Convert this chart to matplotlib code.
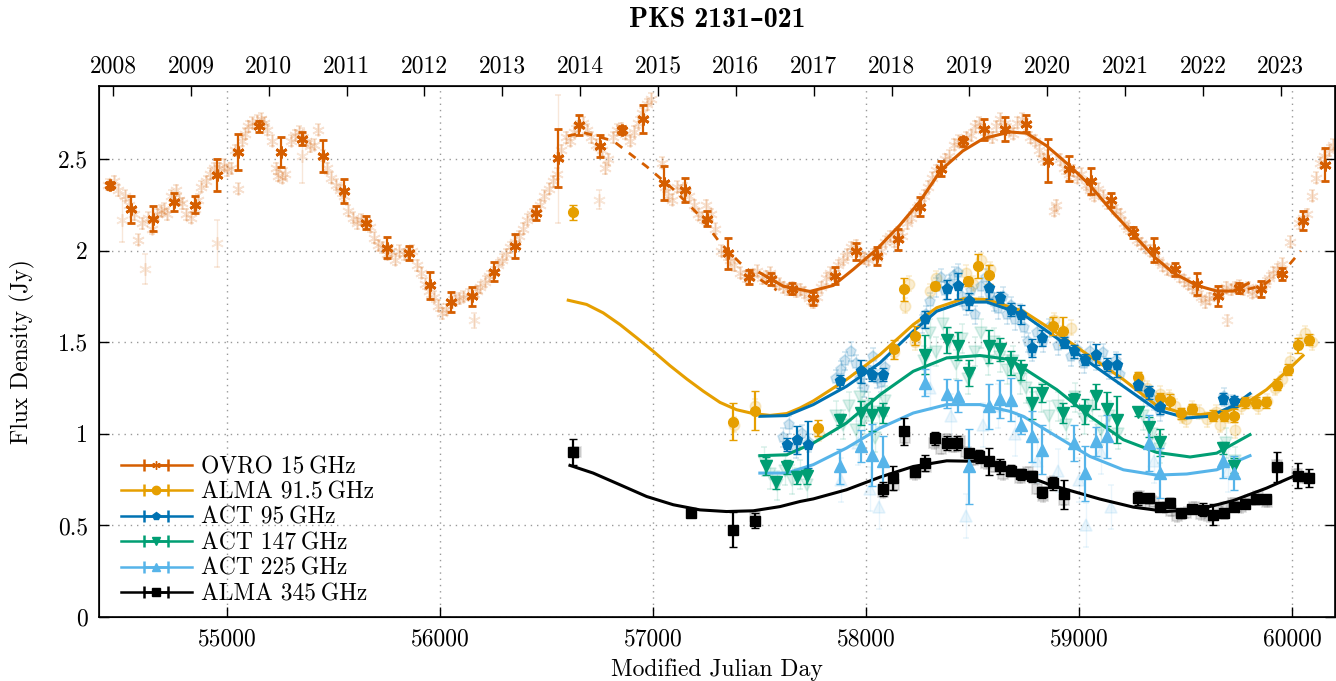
import datetime
import numpy as np
import matplotlib
matplotlib.use("Agg")
import matplotlib.pyplot as plt
from matplotlib.ticker import FuncFormatter

plt.rcParams['font.family'] = ['cmr10', 'DejaVu Serif']
plt.rcParams['mathtext.fontset'] = 'cm'
plt.rcParams['axes.formatter.use_mathtext'] = True
plt.rcParams['font.size'] = 17

# ---- data (MJD, flux Jy, error Jy) ----
ovro_bin = [
    (54451, 2.358, 0.020), (54551, 2.226, 0.073), (54652, 2.176, 0.070), (54752, 2.266, 0.050),
    (54852, 2.252, 0.045), (54952, 2.414, 0.090), (55052, 2.540, 0.100), (55152, 2.679, 0.030),
    (55252, 2.540, 0.080), (55351, 2.613, 0.037), (55452, 2.518, 0.086), (55551, 2.325, 0.066),
    (55653, 2.154, 0.036), (55753, 2.017, 0.058), (55853, 1.990, 0.038), (55953, 1.811, 0.073),
    (56052, 1.720, 0.055), (56152, 1.752, 0.051), (56252, 1.886, 0.053), (56351, 2.026, 0.064),
    (56450, 2.208, 0.038), (56552, 2.507, 0.157), (56652, 2.686, 0.055), (56752, 2.573, 0.062),
    (56853, 2.660, 0.023), (56953, 2.719, 0.077), (57051, 2.369, 0.093), (57151, 2.330, 0.066),
    (57252, 2.176, 0.041), (57352, 1.986, 0.086), (57451, 1.858, 0.038), (57552, 1.847, 0.032),
    (57652, 1.793, 0.029), (57752, 1.741, 0.035), (57852, 1.865, 0.046), (57952, 1.997, 0.046),
    (58051, 1.971, 0.051), (58151, 2.062, 0.058), (58251, 2.241, 0.051), (58351, 2.449, 0.041),
    (58453, 2.599, 0.025), (58553, 2.664, 0.058), (58653, 2.664, 0.066), (58750, 2.693, 0.046),
    (58852, 2.493, 0.120), (58953, 2.449, 0.068), (59053, 2.380, 0.071), (59150, 2.277, 0.040),
    (59250, 2.100, 0.030), (59350, 2.004, 0.064), (59450, 1.898, 0.033), (59551, 1.818, 0.062),
    (59651, 1.752, 0.056), (59751, 1.796, 0.029), (59851, 1.793, 0.044), (59951, 1.873, 0.035),
    (60051, 2.165, 0.051), (60152, 2.471, 0.089),
]
ovro_raw = [
    (54440, 2.36), (54470, 2.38), (54490, 2.33), (54520, 2.30), (54540, 2.25), (54565, 2.20),
    (54584, 2.06), (54600, 2.15), (54630, 2.18), (54650, 2.12), (54670, 2.20), (54690, 2.22),
    (54705, 2.23), (54720, 2.20), (54740, 2.30), (54760, 2.33), (54775, 2.28), (54790, 2.26),
    (54810, 2.20), (54830, 2.18), (54850, 2.23), (54865, 2.28), (54880, 2.35), (54900, 2.38),
    (54920, 2.42), (54940, 2.45), (54965, 2.45), (54985, 2.47), (55000, 2.44), (55020, 2.45),
    (55040, 2.55), (55053, 2.34), (55070, 2.60), (55085, 2.64), (55100, 2.68), (55120, 2.70),
    (55140, 2.71), (55160, 2.72), (55175, 2.70), (55190, 2.66), (55210, 2.60), (55230, 2.45),
    (55241, 2.41), (55260, 2.40), (55275, 2.42), (55300, 2.60), (55320, 2.63), (55340, 2.65),
    (55370, 2.60), (55390, 2.57), (55410, 2.58), (55429, 2.66), (55450, 2.52), (55470, 2.45),
    (55490, 2.40), (55510, 2.36), (55530, 2.33), (55550, 2.30), (55570, 2.22), (55590, 2.18),
    (55610, 2.15), (55630, 2.17), (55650, 2.16), (55670, 2.13), (55690, 2.07), (55710, 2.03),
    (55730, 2.02), (55750, 1.98), (55770, 2.00), (55790, 1.95), (55810, 2.00), (55830, 1.98),
    (55850, 1.99), (55870, 2.00), (55890, 1.92), (55910, 1.88), (55930, 1.82), (55950, 1.78),
    (55970, 1.75), (55990, 1.70), (56010, 1.66), (56030, 1.68), (56050, 1.72), (56070, 1.73),
    (56090, 1.74), (56110, 1.75), (56130, 1.76), (56175, 1.78), (56190, 1.80), (56210, 1.83),
    (56230, 1.86), (56250, 1.88), (56270, 1.92), (56290, 1.95), (56310, 1.98), (56330, 2.02),
    (56350, 2.05), (56370, 2.08), (56390, 2.12), (56410, 2.17), (56430, 2.20), (56450, 2.21),
    (56470, 2.25), (56490, 2.30), (56510, 2.34), (56530, 2.38), (56550, 2.42), (56570, 2.55),
    (56590, 2.62), (56610, 2.60), (56630, 2.65), (56650, 2.68), (56670, 2.70), (56690, 2.66),
    (56710, 2.62), (56730, 2.58), (56760, 2.55), (56775, 2.45), (56790, 2.50), (56810, 2.62),
    (56830, 2.66), (56850, 2.67), (56870, 2.64), (56890, 2.60), (56910, 2.65), (56930, 2.70),
    (56950, 2.75), (56970, 2.80), (56990, 2.83), (57040, 2.48), (57055, 2.35), (57070, 2.30),
    (57090, 2.28), (57110, 2.35), (57130, 2.33), (57150, 2.34), (57170, 2.30), (57190, 2.25),
    (57210, 2.20), (57230, 2.18), (57250, 2.25), (57270, 2.20), (57290, 2.12), (57320, 2.00),
    (57340, 1.98), (57360, 1.95), (57380, 1.92), (57410, 1.88), (57430, 1.86), (57450, 1.85),
    (57470, 1.87), (57490, 1.89), (57510, 1.85), (57530, 1.86), (57550, 1.88), (57570, 1.83),
    (57590, 1.82), (57610, 1.80), (57630, 1.79), (57650, 1.80), (57670, 1.78), (57690, 1.79),
    (57710, 1.77), (57730, 1.74), (57750, 1.72), (57770, 1.75), (57790, 1.80), (57810, 1.85),
    (57830, 1.88), (57850, 1.87), (57870, 1.92), (57890, 1.95), (57910, 1.98), (57930, 2.02),
    (57950, 2.03), (57970, 1.98), (57990, 1.96), (58010, 1.95), (58030, 1.98), (58050, 1.96),
    (58070, 2.00), (58090, 2.05), (58110, 2.08), (58130, 2.05), (58150, 2.10), (58170, 2.08),
    (58190, 2.15), (58210, 2.18), (58230, 2.22), (58250, 2.25), (58270, 2.30), (58290, 2.35),
    (58310, 2.40), (58330, 2.44), (58350, 2.46), (58370, 2.50), (58390, 2.52), (58410, 2.58),
    (58430, 2.60), (58450, 2.59), (58470, 2.62), (58490, 2.63), (58510, 2.68), (58530, 2.70),
    (58550, 2.66), (58570, 2.64), (58590, 2.62), (58610, 2.68), (58630, 2.72), (58650, 2.70),
    (58670, 2.66), (58690, 2.64), (58710, 2.70), (58730, 2.72), (58750, 2.69), (58770, 2.62),
    (58790, 2.60), (58810, 2.55), (58830, 2.50), (58850, 2.52), (58880, 2.22), (58890, 2.25),
    (58910, 2.50), (58930, 2.45), (58950, 2.42), (58970, 2.44), (58990, 2.40), (59010, 2.42),
    (59030, 2.36), (59050, 2.33), (59070, 2.30), (59090, 2.34), (59110, 2.30), (59130, 2.26),
    (59150, 2.28), (59170, 2.22), (59190, 2.20), (59210, 2.15), (59230, 2.12), (59250, 2.10),
    (59270, 2.06), (59290, 2.04), (59310, 2.02), (59330, 2.00), (59350, 1.98), (59370, 1.95),
    (59390, 1.92), (59410, 1.90), (59430, 1.89), (59450, 1.90), (59470, 1.86), (59490, 1.84),
    (59510, 1.82), (59530, 1.80), (59550, 1.78), (59570, 1.75), (59590, 1.72), (59610, 1.74),
    (59630, 1.76), (59650, 1.78), (59670, 1.78), (59690, 1.80), (59710, 1.79), (59730, 1.80),
    (59750, 1.81), (59770, 1.79), (59790, 1.80), (59810, 1.77), (59830, 1.78), (59850, 1.80),
    (59870, 1.82), (59890, 1.85), (59910, 1.88), (59930, 1.90), (59950, 1.93), (59990, 2.05),
    (60030, 2.15), (60050, 2.18), (60070, 2.20), (60090, 2.30), (60110, 2.40), (60130, 2.48),
    (60150, 2.52), (60170, 2.55), (60190, 2.58),
]
ovro_outliers = [
    (54506, 2.17, 0.12), (54616, 1.90, 0.08), (54952, 2.04, 0.13), (55351, 2.52, 0.15),
    (56160, 1.62, 0.04), (56552, 2.50, 0.35), (56745, 2.28, 0.05), (59693, 1.62, 0.03),
]

alma91_bin = [
    (56626, 2.210, 0.040), (57376, 1.067, 0.103), (57478, 1.127, 0.108), (57775, 1.032, 0.046),
    (58130, 1.461, 0.050), (58177, 1.789, 0.061), (58227, 1.537, 0.050), (58323, 1.807, 0.020),
    (58479, 1.834, 0.025), (58527, 1.916, 0.067), (58578, 1.870, 0.050), (58876, 1.588, 0.050),
    (58925, 1.561, 0.076), (59277, 1.311, 0.025), (59379, 1.196, 0.030), (59426, 1.178, 0.040),
    (59476, 1.114, 0.030), (59527, 1.136, 0.030), (59628, 1.100, 0.030), (59678, 1.100, 0.030),
    (59726, 1.100, 0.036), (59778, 1.172, 0.030), (59828, 1.169, 0.030), (59876, 1.172, 0.030),
    (59929, 1.269, 0.030), (59978, 1.351, 0.030), (60027, 1.483, 0.041), (60077, 1.515, 0.030),
]
alma91_raw = [
    (57380, 1.05), (57480, 1.15), (57780, 1.00), (58130, 1.45), (58180, 1.70), (58200, 1.82),
    (58230, 1.50), (58300, 1.78), (58330, 1.85), (58470, 1.88), (58500, 1.82), (58540, 1.95),
    (58580, 1.90), (58880, 1.62), (58920, 1.55), (58960, 1.58), (59280, 1.30), (59320, 1.25),
    (59380, 1.22), (59420, 1.20), (59450, 1.15), (59480, 1.10), (59500, 1.08), (59530, 1.14),
    (59560, 1.12), (59600, 1.08), (59640, 1.12), (59660, 1.05), (59700, 1.10), (59730, 1.02),
    (59760, 1.15), (59800, 1.18), (59840, 1.15), (59880, 1.18), (59920, 1.25), (59950, 1.30),
    (59990, 1.40), (60030, 1.50), (60060, 1.55), (60090, 1.50),
]

act95_bin = [
    (57627, 0.941, 0.036), (57677, 0.968, 0.077), (57729, 0.941, 0.128), (57877, 1.287, 0.036),
    (57975, 1.342, 0.064), (58027, 1.324, 0.036), (58078, 1.324, 0.036), (58276, 1.625, 0.046),
    (58377, 1.789, 0.050), (58429, 1.807, 0.073), (58481, 1.725, 0.046), (58578, 1.798, 0.064),
    (58628, 1.743, 0.030), (58678, 1.679, 0.036), (58725, 1.652, 0.050), (58777, 1.470, 0.050),
    (58827, 1.524, 0.046), (58928, 1.497, 0.030), (58977, 1.451, 0.034), (59027, 1.406, 0.030),
    (59078, 1.433, 0.056), (59128, 1.379, 0.036), (59178, 1.375, 0.064), (59277, 1.265, 0.025),
    (59329, 1.227, 0.036), (59379, 1.147, 0.036), (59676, 1.193, 0.030), (59726, 1.178, 0.030),
]
act95_raw = [
    (57610, 0.98), (57640, 1.05), (57670, 0.92), (57700, 1.00), (57730, 0.95), (57860, 1.30),
    (57880, 1.35), (57900, 1.40), (57930, 1.45), (57950, 1.38), (57970, 1.30), (57990, 1.25),
    (58010, 1.35), (58030, 1.42), (58050, 1.30), (58070, 1.28), (58090, 1.36), (58260, 1.60),
    (58280, 1.65), (58300, 1.72), (58330, 1.80), (58350, 1.85), (58370, 1.78), (58390, 1.82),
    (58410, 1.86), (58430, 1.88), (58450, 1.75), (58470, 1.70), (58490, 1.78), (58510, 1.65),
    (58540, 1.80), (58560, 1.85), (58580, 1.76), (58600, 1.72), (58620, 1.68), (58640, 1.75),
    (58660, 1.65), (58680, 1.70), (58700, 1.62), (58720, 1.66), (58740, 1.58), (58760, 1.50),
    (58780, 1.45), (58800, 1.55), (58830, 1.50), (58860, 1.58), (58900, 1.48), (58930, 1.52),
    (58960, 1.42), (58990, 1.46), (59020, 1.38), (59050, 1.45), (59080, 1.40), (59110, 1.44),
    (59140, 1.35), (59170, 1.40), (59190, 1.32), (59290, 1.25), (59320, 1.20), (59350, 1.18),
    (59380, 1.12), (59680, 1.20), (59720, 1.16),
]

act147_bin = [
    (57528, 0.826, 0.048), (57577, 0.735, 0.037), (57627, 0.819, 0.036), (57674, 0.764, 0.036),
    (57721, 0.768, 0.040), (57877, 1.078, 0.030), (57975, 1.114, 0.068), (58027, 1.105, 0.090),
    (58078, 1.114, 0.055), (58276, 1.433, 0.105), (58377, 1.515, 0.071), (58429, 1.479, 0.075),
    (58481, 1.333, 0.073), (58578, 1.479, 0.091), (58628, 1.461, 0.064), (58678, 1.388, 0.067),
    (58725, 1.351, 0.055), (58777, 1.169, 0.087), (58827, 1.224, 0.050), (58925, 1.114, 0.055),
    (58977, 1.187, 0.036), (59027, 1.123, 0.068), (59078, 1.205, 0.067), (59128, 1.136, 0.091),
    (59178, 1.078, 0.128), (59277, 1.118, 0.020), (59329, 1.038, 0.055), (59379, 0.954, 0.073),
    (59676, 0.923, 0.034), (59726, 0.826, 0.041),
]
act147_raw = [
    (57520, 0.85), (57550, 0.78), (57580, 0.72), (57620, 0.80), (57650, 0.75), (57690, 0.78),
    (57720, 0.72), (57860, 1.10), (57890, 1.05), (57920, 1.15), (57950, 1.02), (57970, 1.20),
    (57990, 1.08), (58010, 1.15), (58040, 0.98), (58060, 1.12), (58090, 1.18), (58270, 1.40),
    (58300, 1.55), (58330, 1.45), (58360, 1.60), (58390, 1.50), (58420, 1.38), (58450, 1.52),
    (58480, 1.30), (58510, 1.45), (58540, 1.55), (58570, 1.40), (58600, 1.50), (58630, 1.42),
    (58660, 1.35), (58690, 1.40), (58720, 1.30), (58750, 1.25), (58780, 1.15), (58820, 1.20),
    (58860, 1.10), (58900, 1.15), (58940, 1.05), (58980, 1.20), (59020, 1.08), (59060, 1.15),
    (59100, 1.02), (59140, 1.10), (59180, 1.00), (59300, 1.10), (59340, 1.00), (59380, 0.92),
    (59690, 0.95), (59730, 0.85),
]

act225_bin = [
    (57877, 0.822, 0.094), (57975, 0.932, 0.087), (58027, 0.886, 0.169), (58078, 0.850, 0.137),
    (58276, 1.279, 0.073), (58377, 1.220, 0.080), (58429, 1.205, 0.087), (58481, 0.822, 0.203),
    (58578, 1.150, 0.123), (58628, 1.190, 0.105), (58678, 1.187, 0.118), (58725, 1.050, 0.050),
    (58777, 0.986, 0.137), (58827, 0.914, 0.132), (58977, 0.950, 0.100), (59027, 0.786, 0.150),
    (59078, 0.959, 0.080), (59128, 0.986, 0.118), (59329, 0.950, 0.155), (59379, 0.786, 0.137),
    (59676, 0.850, 0.091), (59726, 0.786, 0.091),
]
act225_raw = [
    (57880, 0.75), (57960, 0.95), (58020, 0.70), (58060, 0.60), (58300, 1.25), (58400, 1.10),
    (58470, 0.55), (58550, 1.05), (58620, 1.15), (58700, 1.00), (58800, 0.85), (58900, 0.80),
    (59000, 0.75), (59030, 0.50), (59100, 0.90), (59150, 0.60), (59350, 0.85), (59700, 0.80),
]

alma345_bin = [
    (56626, 0.901, 0.073), (57176, 0.567, 0.012), (57376, 0.476, 0.095), (57478, 0.527, 0.041),
    (58077, 0.699, 0.036), (58128, 0.759, 0.064), (58177, 1.014, 0.073), (58229, 0.790, 0.015),
    (58276, 0.841, 0.046), (58323, 0.977, 0.036), (58378, 0.950, 0.036), (58428, 0.950, 0.036),
    (58481, 0.895, 0.015), (58530, 0.877, 0.036), (58578, 0.850, 0.073), (58628, 0.822, 0.040),
    (58678, 0.800, 0.030), (58725, 0.780, 0.030), (58777, 0.770, 0.030), (58827, 0.680, 0.030),
    (58876, 0.730, 0.036), (58928, 0.670, 0.080), (59277, 0.649, 0.036), (59329, 0.649, 0.025),
    (59379, 0.603, 0.015), (59426, 0.625, 0.025), (59476, 0.567, 0.025), (59527, 0.589, 0.015),
    (59579, 0.585, 0.036), (59628, 0.558, 0.057), (59678, 0.567, 0.025), (59726, 0.603, 0.025),
    (59778, 0.618, 0.025), (59828, 0.644, 0.025), (59876, 0.644, 0.025), (59929, 0.819, 0.082),
    (60027, 0.771, 0.068), (60077, 0.759, 0.050),
]
alma345_raw = [
    (56640, 0.90), (57480, 0.55), (58080, 0.68), (58130, 0.72), (58180, 0.98), (58230, 0.78),
    (58280, 0.82), (58320, 0.95), (58350, 0.92), (58380, 0.97), (58410, 0.93), (58440, 0.96),
    (58470, 0.90), (58500, 0.86), (58530, 0.88), (58560, 0.84), (58600, 0.82), (58640, 0.78),
    (58680, 0.80), (58720, 0.76), (58760, 0.79), (58800, 0.70), (58830, 0.66), (58870, 0.74),
    (58930, 0.64), (59280, 0.66), (59310, 0.62), (59350, 0.63), (59400, 0.60), (59430, 0.58),
    (59460, 0.55), (59500, 0.57), (59540, 0.60), (59570, 0.56), (59610, 0.55), (59650, 0.58),
    (59690, 0.60), (59720, 0.62), (59760, 0.60), (59800, 0.64), (59840, 0.66), (59880, 0.63),
    (59930, 0.83), (60020, 0.78), (60060, 0.76),
]

# sinusoidal model curves at knots
ovro_fit_mjd = [57501, 57611, 57736, 57846, 57939, 58049, 58158, 58252, 58352, 58453, 58550,
                58675, 58753, 58847, 58956, 59050, 59159, 59254, 59347, 59441, 59551, 59645,
                59723, 59793]
ovro_fit_flux = [1.880, 1.807, 1.778, 1.811, 1.898, 2.008, 2.140, 2.270, 2.442, 2.545, 2.613,
                 2.649, 2.642, 2.573, 2.463, 2.358, 2.208, 2.090, 1.971, 1.880, 1.811, 1.780,
                 1.780, 1.822]
ovro_dash1_mjd = [56600, 56673, 56813, 56970, 57095, 57220, 57314, 57407, 57501, 57580]
ovro_dash1_flux = [2.627, 2.646, 2.600, 2.460, 2.336, 2.190, 2.044, 1.935, 1.844, 1.785]
ovro_dash2_mjd = [59790, 59860, 59920, 59975, 60040]
ovro_dash2_flux = [1.790, 1.810, 1.860, 1.910, 2.000]

alma91_fit_mjd = [56602, 56688, 56766, 56845, 56923, 57001, 57079, 57158, 57236, 57314, 57392,
                  57470, 57549, 57627, 57690, 57752, 57908, 58065, 58221, 58331, 58456, 58566,
                  58737, 58894, 59050, 59207, 59363, 59472, 59566, 59691, 59785, 59879, 59973,
                  60050]
alma91_fit_flux = [1.730, 1.707, 1.661, 1.597, 1.525, 1.451, 1.373, 1.300, 1.233, 1.172, 1.132,
                   1.111, 1.101, 1.111, 1.142, 1.180, 1.297, 1.433, 1.597, 1.689, 1.738, 1.734,
                   1.670, 1.552, 1.424, 1.297, 1.155, 1.118, 1.105, 1.123, 1.169, 1.242, 1.342,
                   1.428]
act95_fit_mjd = [57501, 57627, 57752, 57908, 58065, 58221, 58331, 58456, 58566, 58737, 58894,
                 59050, 59207, 59363, 59504, 59613, 59723, 59801]
act95_fit_flux = [1.096, 1.100, 1.160, 1.260, 1.388, 1.561, 1.670, 1.720, 1.720, 1.652, 1.524,
                  1.388, 1.260, 1.132, 1.087, 1.096, 1.154, 1.220]
act147_fit_mjd = [57501, 57627, 57752, 57908, 58065, 58221, 58378, 58534, 58675, 58737, 58894,
                  59050, 59207, 59363, 59520, 59645, 59801]
act147_fit_flux = [0.881, 0.886, 0.950, 1.060, 1.214, 1.342, 1.415, 1.428, 1.406, 1.360, 1.242,
                   1.096, 0.968, 0.899, 0.874, 0.895, 0.996]
act225_fit_mjd = [57501, 57627, 57752, 57908, 58065, 58221, 58378, 58534, 58675, 58737, 58894,
                  59050, 59207, 59363, 59504, 59645, 59801]
act225_fit_flux = [0.786, 0.786, 0.832, 0.923, 1.032, 1.114, 1.160, 1.160, 1.123, 1.096, 0.986,
                   0.877, 0.804, 0.775, 0.781, 0.804, 0.881]
alma345_fit_mjd = [56610, 56719, 56845, 56970, 57095, 57220, 57345, 57470, 57596, 57690, 57752,
                   57908, 58065, 58221, 58378, 58534, 58675, 58863, 59097, 59254, 59410, 59566,
                   59723, 59879, 60004]
alma345_fit_flux = [0.828, 0.786, 0.722, 0.658, 0.613, 0.585, 0.576, 0.580, 0.603, 0.631, 0.645,
                    0.695, 0.764, 0.822, 0.853, 0.850, 0.804, 0.722, 0.644, 0.600, 0.576, 0.589,
                    0.636, 0.704, 0.768]

years = list(range(2008, 2024))

# ---- styles ----
c_ovro, c_a91, c_a95, c_a147, c_a225, c_a345 = '#D55E00', '#E69F00', '#0072B2', '#009E73', '#56B4E9', '#000000'
m_ast = (6, 2, 0)

fig = plt.figure(figsize=(13.36, 6.81), dpi=100)
ax = fig.add_axes([99 / 1336, 64 / 681, 1236 / 1336, 531 / 681])


def raw(points, color, marker, err=0.03, alpha=0.13, ms=7):
    x = [p[0] for p in points]
    y = [p[1] for p in points]
    e = [p[2] for p in points] if len(points[0]) > 2 else err
    ax.errorbar(x, y, yerr=e, fmt='', marker=marker, color=color, ms=ms, mew=1.2, alpha=alpha,
                elinewidth=1.0, capsize=2, ls='none', zorder=2)


def binned(points, color, marker, ms=7):
    x = [p[0] for p in points]
    y = [p[1] for p in points]
    e = [p[2] for p in points]
    ax.errorbar(x, y, yerr=e, fmt='', marker=marker, color=color, ms=ms,
                mew=2.0 if marker == m_ast else 1.0,
                elinewidth=1.6, capsize=3, capthick=1.6, ls='none', zorder=5)


raw(ovro_raw, c_ovro, m_ast, err=0.03, alpha=0.18, ms=9)
raw(ovro_outliers, c_ovro, m_ast, alpha=0.15, ms=9)
raw(alma91_raw, c_a91, 'o', err=0.04, alpha=0.18, ms=7.5)
raw(act95_raw, c_a95, 'p', err=0.05, alpha=0.18, ms=8)
raw(act147_raw, c_a147, 'v', err=0.08, alpha=0.14, ms=8)
raw(act225_raw, c_a225, '^', err=0.12, alpha=0.12, ms=8)
raw(alma345_raw, '#555555', 's', err=0.03, alpha=0.18, ms=7)

ax.plot(ovro_fit_mjd, ovro_fit_flux, color=c_ovro, lw=2.2, zorder=4)
ax.plot(ovro_dash1_mjd, ovro_dash1_flux, color=c_ovro, lw=2, ls=(0, (3, 3)), zorder=4)
ax.plot(ovro_dash2_mjd, ovro_dash2_flux, color=c_ovro, lw=2, ls=(0, (3, 3)), zorder=4)
ax.plot(alma91_fit_mjd, alma91_fit_flux, color=c_a91, lw=2.2, zorder=4)
ax.plot(act95_fit_mjd, act95_fit_flux, color=c_a95, lw=2.2, zorder=4)
ax.plot(act147_fit_mjd, act147_fit_flux, color=c_a147, lw=2.2, zorder=4)
ax.plot(act225_fit_mjd, act225_fit_flux, color=c_a225, lw=2.2, zorder=4)
ax.plot(alma345_fit_mjd, alma345_fit_flux, color=c_a345, lw=2.2, zorder=4)

binned(ovro_bin, c_ovro, m_ast, ms=8.5)
binned(alma91_bin, c_a91, 'o', ms=7)
binned(act95_bin, c_a95, 'p', ms=8)
binned(act147_bin, c_a147, 'v', ms=8)
binned(act225_bin, c_a225, '^', ms=8)
binned(alma345_bin, c_a345, 's', ms=7)

# legend proxies
labels = ['OVRO 15\u2009GHz', 'ALMA 91.5\u2009GHz', 'ACT 95\u2009GHz', 'ACT 147\u2009GHz',
          'ACT 225\u2009GHz', 'ALMA 345\u2009GHz']
styles = [(c_ovro, m_ast), (c_a91, 'o'), (c_a95, 'p'), (c_a147, 'v'), (c_a225, '^'), (c_a345, 's')]
handles = []
for (c, m), lab in zip(styles, labels):
    h = ax.errorbar([np.nan], [np.nan], xerr=[1], fmt='-', marker=m, color=c, ms=6, lw=1.8,
                    elinewidth=1.8, capsize=4, capthick=1.8, label=lab)
    handles.append(h)
ax.legend(handles=handles, loc='lower left', frameon=False, handlelength=3.0,
          handletextpad=0.4, labelspacing=0.14, borderaxespad=0.1, bbox_to_anchor=(0.008, 0.0))

ax.set_xlim(54400, 60200)
ax.set_ylim(0, 2.9)
ax.set_xticks([55000, 56000, 57000, 58000, 59000, 60000])
ax.set_yticks([0, 0.5, 1, 1.5, 2, 2.5])
ax.yaxis.set_major_formatter(FuncFormatter(lambda v, p: '%g' % v))
ax.xaxis.set_major_formatter(FuncFormatter(lambda v, p: '%d' % v))
ax.tick_params(direction='in', length=7, width=1, right=True, top=False, pad=8)
ax.grid(True, color='#999999', ls=(0, (1, 3.5)), lw=1.0)
for s in ax.spines.values():
    s.set_linewidth(1.2)
ax.set_xlabel('Modified Julian Day', labelpad=6)
ax.set_ylabel('Flux Density (Jy)')
ax.yaxis.set_label_coords(-0.052, 0.5)

top = ax.twiny()
top.set_xlim(ax.get_xlim())
mjd_epoch = datetime.date(1858, 11, 17)
top.set_xticks([(datetime.date(y, 1, 1) - mjd_epoch).days for y in years])
top.set_xticklabels([str(y) for y in years])
top.tick_params(direction='in', length=7, width=1, pad=6)

fig.text(717 / 1336, 1 - 20 / 681, 'PKS 2131\u2013021', ha='center', va='center',
         fontsize=20, fontweight='bold', family=['cmb10', 'DejaVu Serif'])

fig.savefig('out.png', dpi=100)
